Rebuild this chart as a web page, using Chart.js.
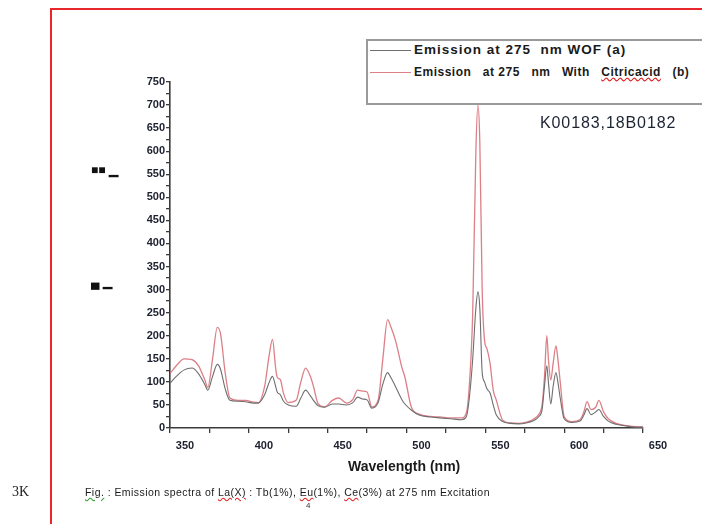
<!DOCTYPE html>
<html>
<head>
<meta charset="utf-8">
<script src="https://cdn.jsdelivr.net/npm/chart.js@4.4.1/dist/chart.umd.min.js"></script>
<style>
  body { margin: 0; background: #fff; }
  #wrap { position: relative; width: 702px; height: 524px; overflow: hidden; font-family: Arial, "Liberation Sans", sans-serif; background: #fff; }
  #chart { position: absolute; left: 0; top: 0; }
  .pageLine { position: absolute; left: 50px; top: 8px; width: 700px; height: 600px; border-left: 2px solid #e8262b; border-top: 2px solid #e8262b; }
  .legend { position: absolute; left: 366px; top: 39px; width: 400px; height: 62px; border: 2px solid #9a9a9a; border-right: none; background: #fff; }
  .legend .row { position: absolute; left: 2px; height: 16px; white-space: pre; font-weight: bold; color: #1a1a1a; }
  .legend .sw { display: inline-block; width: 41px; height: 0; border-top: 1.5px solid; vertical-align: middle; margin-right: 3px; }
  .note { position: absolute; left: 540px; top: 114px; font-size: 16px; letter-spacing: 0.9px; color: #1c2433; }
  .xtitle { position: absolute; left: 348px; top: 458px; font-size: 14px; font-weight: bold; color: #1a1a1a; }
  .ybits { position: absolute; left: 91px; font-size: 12px; font-weight: bold; color: #111; }
  .side { position: absolute; left: 12px; top: 484px; font-family: "Liberation Serif", "DejaVu Serif", serif; font-size: 14px; color: #222; }
  .caption { position: absolute; left: 85px; top: 486px; font-size: 10.5px; letter-spacing: 0.45px; color: #1a1a1a; white-space: pre; }
  .caption .r { text-decoration: underline wavy #e02020; }
  .caption .g { text-decoration: underline wavy #2a9a2a; }
  .sub { position: absolute; left: 306px; top: 501px; font-size: 8px; color: #333; }
</style>
</head>
<body>
<div id="wrap">
  <canvas id="chart" width="702" height="524"></canvas>
  <div class="pageLine"></div>
  <div class="legend">
    <div class="row" id="leg1" style="top:1px;font-size:13.5px;letter-spacing:1px;"></div>
    <div class="row" id="leg2" style="top:24px;font-size:12px;letter-spacing:0.5px;"></div>
  </div>
  <div class="note">K00183,18B0182</div>
  <div class="xtitle">Wavelength (nm)</div>
  <div class="ybits" style="top:163px;">■■ ▁</div>
  <div class="ybits" style="top:275px;">▄ ▁</div>
  <div class="side">3K</div>
  <div class="caption"><span class="g">Fig.</span> : Emission spectra of <span class="r">La(X)</span> : Tb(1%), <span class="r">Eu</span>(1%), <span class="r">Ce</span>(3%) at 275 nm Excitation</div>
  <div class="sub">4</div>
</div>
<script>
// wavelength (nm)
const wavelengths = [
  350, 354, 359, 364, 368, 372, 374, 377, 380, 382, 385, 388, 393, 398, 403, 406,
  410, 413, 415, 417, 418, 420, 422, 425, 430, 433, 436, 439, 441, 444, 448, 453,
  457, 462, 466, 469, 472, 475, 478, 482, 485, 488, 490, 493, 497, 499, 503, 508,
  515, 521, 528, 535, 538, 540, 542, 544, 545.3, 546.5, 548, 549.5, 551, 553, 555, 557,
  561, 566, 571, 576, 580, 584, 586, 587.5, 589, 590, 591.5, 593, 594.8, 596, 597.5, 600,
  605, 610, 612.5, 614.5, 617, 620, 622, 625, 628, 633, 640, 645, 650
];
// (a) emission at 275 nm WOF
const emissionWOF = [
  97, 112, 126, 130, 118, 95, 82, 112, 138, 128, 85, 60, 58, 57, 54, 54,
  72, 100, 112, 90, 78, 72, 58, 50, 47, 65, 82, 70, 60, 48, 45, 52,
  52, 50, 55, 67, 63, 61, 43, 55, 95, 120, 110, 90, 62, 52, 39, 28,
  24, 22, 20, 18, 25, 70, 150, 260, 295, 260, 120, 100, 85, 76, 50, 28,
  14, 10, 9, 11, 15, 25, 40, 90, 135, 100, 52, 90, 120, 100, 65, 20,
  12, 15, 28, 42, 29, 35, 40, 25, 15, 8, 4, 2, 2
];
// (b) emission at 275 nm with citric acid
const emissionCitric = [
  118, 135, 150, 148, 135, 105, 88, 150, 218, 205, 120, 65, 60, 60, 56, 55,
  90, 160, 192, 130, 110, 105, 75, 55, 60, 100, 130, 112, 90, 52, 46, 60,
  65, 54, 62, 82, 80, 78, 46, 60, 150, 235, 220, 190, 132, 110, 46, 30,
  25, 24, 22, 22, 33, 100, 250, 600, 700, 620, 300, 190, 172, 140, 82, 60,
  17, 11, 10, 13, 18, 30, 50, 110, 200, 150, 104, 140, 178, 150, 100, 25,
  14, 18, 35, 57, 40, 45, 60, 35, 20, 10, 5, 3, 2
];
const xTickLabels = [350, 400, 450, 500, 550, 600, 650];
const yTickLabels = [0, 50, 100, 150, 200, 250, 300, 350, 400, 450, 500, 550, 600, 650, 700, 750];

const seriesNames = ['Emission at 275  nm WOF (a)', 'Emission   at 275   nm   With   Citricacid   (b)'];
const grayColor = '#6e6e6e';
const pinkColor = 'rgba(214, 104, 114, 0.85)';

// html legend
document.getElementById('leg1').innerHTML =
  '<span class="sw" style="border-color:' + grayColor + '"></span>' + seriesNames[0];
document.getElementById('leg2').innerHTML =
  '<span class="sw" style="border-color:' + pinkColor + '"></span>' +
  seriesNames[1].replace('Citricacid', '<span style="text-decoration:underline wavy #e02020">Citricacid</span>');

function toPoints(vals) {
  return wavelengths.map((w, i) => ({ x: w, y: vals[i] }));
}

const axisColor = '#3a3a3a';
const tickFont = { family: 'Arial, "Liberation Sans", sans-serif', size: 11, weight: 'bold' };

new Chart(document.getElementById('chart').getContext('2d'), {
  type: 'line',
  data: {
    datasets: [
      {
        label: seriesNames[0],
        data: toPoints(emissionWOF),
        borderColor: grayColor,
        borderWidth: 1.1,
        pointRadius: 0,
        cubicInterpolationMode: 'monotone'
      },
      {
        label: seriesNames[1],
        data: toPoints(emissionCitric),
        borderColor: pinkColor,
        borderWidth: 1.3,
        pointRadius: 0,
        cubicInterpolationMode: 'monotone'
      }
    ]
  },
  options: {
    responsive: false,
    animation: false,
    layout: { padding: { left: 110, top: 82, right: 59, bottom: 66 } },
    plugins: { legend: { display: false }, tooltip: { enabled: false } },
    scales: {
      x: {
        type: 'linear',
        min: 350,
        max: 650,
        ticks: {
          stepSize: 25,
          autoSkip: false,
          maxRotation: 0,
          labelOffset: 15,
          padding: 6,
          color: '#1b1f2e',
          font: tickFont,
          callback: v => xTickLabels.includes(v) ? v : ''
        },
        grid: { drawOnChartArea: false, tickLength: 5, color: axisColor, lineWidth: 1.3 },
        border: { color: axisColor, width: 1.6 },
        afterFit: s => { s.height = 30; }
      },
      y: {
        min: 0,
        max: 750,
        ticks: {
          stepSize: 25,
          autoSkip: false,
          padding: 1,
          color: '#1b1f2e',
          font: tickFont,
          callback: v => yTickLabels.includes(v) ? v : ''
        },
        grid: { drawOnChartArea: false, tickLength: 4, color: axisColor, lineWidth: 1.3 },
        border: { color: axisColor, width: 1.6 },
        afterFit: s => { s.width = 60; }
      }
    }
  }
});
</script>
</body>
</html>
